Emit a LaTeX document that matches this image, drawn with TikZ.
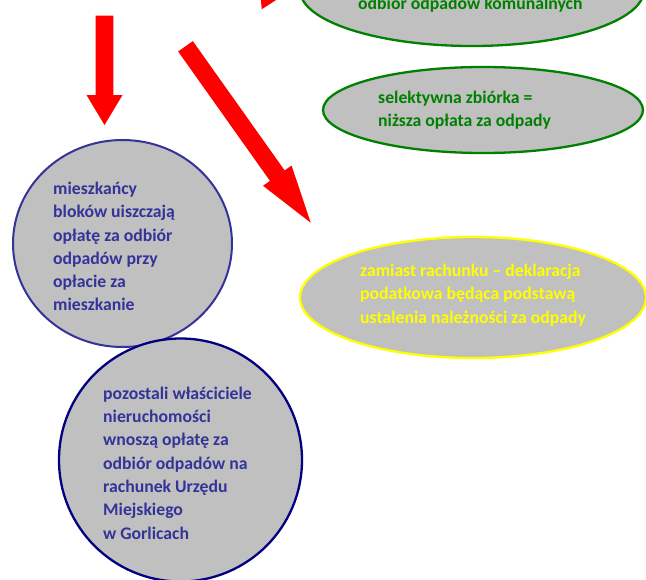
\documentclass[tikz,border=0pt]{standalone}
\usepackage{fontspec}
\setmainfont{Carlito}
\usepackage{xcolor}
\usetikzlibrary{shapes.geometric,calc}

\definecolor{grau}{HTML}{C0C0C0}
\definecolor{gruen}{HTML}{008000}
\definecolor{blau}{HTML}{333399}
\definecolor{dunkelblau}{HTML}{000080}
\definecolor{gelb}{HTML}{FFFF00}

% Blockpfeil: Anfang, Spitze, halbe Schaftbreite, halbe Kopfbreite, Kopflaenge
\newcommand{\blockpfeil}[5]{%
  \coordinate (kb) at ($(#2)!#5!(#1)$);
  \fill[red] ($(#1)!#3!90:(#2)$) -- ($(kb)!#3!90:(#2)$) -- ($(kb)!#4!90:(#2)$)
    -- (#2) -- ($(kb)!#4!-90:(#2)$) -- ($(kb)!#3!-90:(#2)$) -- ($(#1)!#3!-90:(#2)$) -- cycle;}

\tikzset{
  blase/.style={ellipse, fill=grau, inner sep=0pt, line width=2.3pt},
  txt/.style={align=left, inner sep=0pt, font=\bfseries\fontsize{17.7}{23.3}\selectfont}
}

\begin{document}
\begin{tikzpicture}[x=1pt,y=-1pt]
		\useasboundingbox (0,0) rectangle (646,579);
		\clip (0,0) rectangle (646,579);

		% Koordinaten
		\coordinate (p1a) at (104.5,15.7);
		\coordinate (p1b) at (104.5,125);
		\coordinate (p2a) at (185.5,46.3);
		\coordinate (p2b) at (310.7,222.7);
		\coordinate (p3a) at (305.7,-80.5);
		\coordinate (p3b) at (261.7,9.3);

		% Ellipsen
		\node[blase, draw=gruen, minimum width=344pt, minimum height=112pt] (komunal) at (472,-10) {};
		\node[txt, text=gruen, anchor=base west] (komunaltxt) at (358,9) {odbiór odpadów komunalnych};

		\node[blase, draw=gruen, minimum width=320pt, minimum height=86pt] (selekt) at (483,110) {};
		\node[txt, text=gruen, anchor=west] (selekttxt) at (378,110) {selektywna zbiórka =\\niższa opłata za odpady};

		\node[blase, draw=gelb, minimum width=346pt, minimum height=121pt] (deklar) at (473,297.5) {};
		\node[txt, text=gelb, anchor=west] (deklartxt) at (360,295) {zamiast rachunku – deklaracja\\podatkowa będąca podstawą\\ustalenia należności za odpady};

		% Kreise
		\node[blase, draw=blau, line width=2pt, minimum width=219pt, minimum height=207pt] (bloki) at (122.5,243.5) {};
		\node[txt, text=blau, anchor=west] (blokitxt) at (53,246.5) {mieszkańcy\\bloków uiszczają\\opłatę za odbiór\\odpadów przy\\opłacie za\\mieszkanie};

		\node[blase, draw=dunkelblau, minimum width=243pt, minimum height=243pt] (pozostali) at (180.5,460) {};
		\node[txt, text=blau, anchor=west] (pozostalitxt) at (103,463) {pozostali właściciele\\nieruchomości\\wnoszą opłatę za\\odbiór odpadów na\\rachunek Urzędu\\Miejskiego\\w Gorlicach};

		% Pfeile
		\blockpfeil{p1a}{p1b}{8.8pt}{18pt}{30pt}
		\blockpfeil{p2a}{p2b}{9pt}{17.5pt}{57.7pt}
		\blockpfeil{p3a}{p3b}{9pt}{18pt}{30pt}
	\end{tikzpicture}
\end{document}
